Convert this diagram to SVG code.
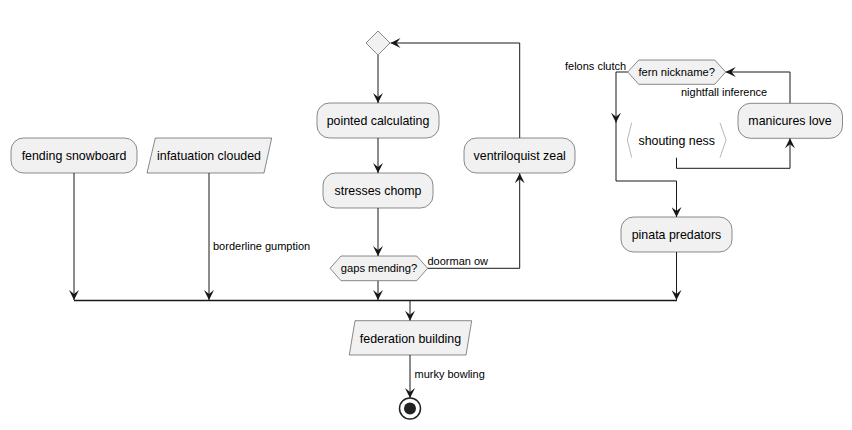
<svg xmlns="http://www.w3.org/2000/svg" width="852" height="430" viewBox="0 0 852 430">
  <style>
    .box { fill: #F1F1F1; stroke: #181818; stroke-width: 0.5; }
    .t { font-family: "Liberation Sans", Arial, sans-serif; font-size: 12.4px; fill: #000; text-anchor: middle; }
    .d { font-family: "Liberation Sans", Arial, sans-serif; font-size: 11.2px; fill: #000; text-anchor: middle; }
    .lbl { font-family: "Liberation Sans", Arial, sans-serif; font-size: 11px; fill: #000; }
    .edge { fill: none; stroke: #181818; stroke-width: 1; }
    .arr { marker-end: url(#head); }
    .bar { stroke: #181818; stroke-width: 1.5; }
    .brk { fill: none; stroke: #9a9a9a; stroke-width: 0.7; }
  </style>
  <defs>
    <marker id="head" markerUnits="userSpaceOnUse" viewBox="0 -5 10 10" refX="10" refY="0" markerWidth="10" markerHeight="10" orient="auto">
      <path d="M0,-5 L10,0 L0,5 L4,0 Z" fill="#181818"/>
    </marker>
  </defs>

  <rect width="852" height="430" fill="#FFFFFF"/>

  <!-- connectors -->
  <g id="connectors">
    <path class="edge arr" d="M74,173 V300"/>
    <path class="edge arr" d="M209,173 V300"/>
    <path class="edge arr" d="M378,55 V103"/>
    <path class="edge arr" d="M378,138 V173"/>
    <path class="edge arr" d="M378,208 V256"/>
    <path class="edge arr" d="M378,280.7 V300"/>
    <path class="edge arr" d="M427.7,268.3 H519.7 V173.3"/>
    <path class="edge arr" d="M519.7,138 V43 H390.5"/>
    <path class="edge arr" d="M627.7,72 H616 V122.7"/>
    <path class="edge arr" d="M616,122 V181 H676.5 V217"/>
    <path class="edge arr" d="M676.5,157.7 V168.3 H790 V138.3"/>
    <path class="edge arr" d="M790,103.3 V72 H725.7"/>
    <path class="edge arr" d="M676.5,252 V300"/>
    <line class="bar" x1="74" y1="300.5" x2="677" y2="300.5"/>
    <path class="edge arr" d="M410,301 V320.7"/>
    <path class="edge arr" d="M410,355 V398"/>
    <text class="lbl" x="213" y="249.5">borderline gumption</text>
    <text class="lbl" x="427.5" y="265">doorman ow</text>
    <text class="lbl" x="565" y="69.5">felons clutch</text>
    <text class="lbl" x="681" y="96">nightfall inference</text>
    <text class="lbl" x="414.5" y="378">murky bowling</text>
  </g>

  <!-- nodes -->
  <g id="fending-snowboard">
    <rect class="box" x="11" y="138" width="126" height="35" rx="12.5"/>
    <text class="t" x="74" y="160">fending snowboard</text>
  </g>
  <g id="infatuation-clouded">
    <polygon class="box" points="155.3,138 271.7,138 264,173 147,173"/>
    <text class="t" x="209" y="160">infatuation clouded</text>
  </g>
  <g id="merge-diamond">
    <polygon class="box" points="378,31 390,43 378,55 366,43"/>
  </g>
  <g id="pointed-calculating">
    <rect class="box" x="317" y="103" width="122" height="35" rx="12.5"/>
    <text class="t" x="378" y="125">pointed calculating</text>
  </g>
  <g id="stresses-chomp">
    <rect class="box" x="323" y="173" width="110" height="35" rx="12.5"/>
    <text class="t" x="378" y="195">stresses chomp</text>
  </g>
  <g id="gaps-mending">
    <polygon class="box" points="330,268.3 341,256 416.7,256 427.7,268.3 416.7,280.7 341,280.7"/>
    <text class="d" x="379" y="272.3">gaps mending?</text>
  </g>
  <g id="ventriloquist-zeal">
    <rect class="box" x="464" y="138" width="111" height="35" rx="12.5"/>
    <text class="t" x="519.7" y="160">ventriloquist zeal</text>
  </g>
  <g id="fern-nickname">
    <polygon class="box" points="627.7,72 638.7,60 714.7,60 725.7,72 714.7,84.3 638.7,84.3"/>
    <text class="d" x="676.7" y="76">fern nickname?</text>
  </g>
  <g id="shouting-ness">
    <polyline class="brk" points="631.7,122.7 627.3,140 631.7,157.7"/>
    <polyline class="brk" points="720,122.7 726,140 720,157.7"/>
    <text class="t" x="676.7" y="144.7">shouting ness</text>
  </g>
  <g id="manicures-love">
    <rect class="box" x="738" y="103.3" width="104.5" height="35" rx="12.5"/>
    <text class="t" x="790" y="125.3">manicures love</text>
  </g>
  <g id="pinata-predators">
    <rect class="box" x="621" y="217" width="111" height="35" rx="12.5"/>
    <text class="t" x="676.5" y="239">pinata predators</text>
  </g>
  <g id="federation-building">
    <polygon class="box" points="355,320.7 471.7,320.7 466,355 349.3,355"/>
    <text class="t" x="410.5" y="342.5">federation building</text>
  </g>
  <g id="end">
    <circle cx="410" cy="408.5" r="10.5" fill="#FFFFFF" stroke="#222222" stroke-width="1.5"/>
    <circle cx="410" cy="408.5" r="6" fill="#222222"/>
  </g>
</svg>
